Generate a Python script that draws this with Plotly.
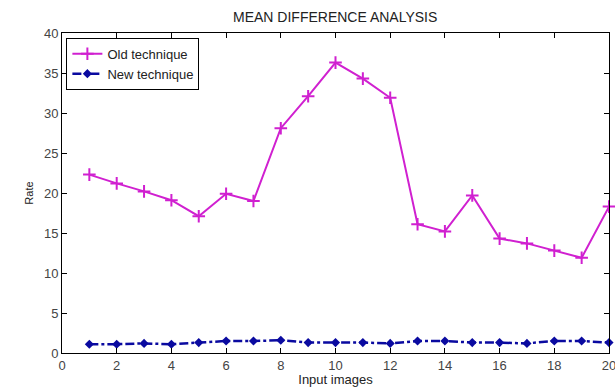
import plotly.graph_objects as go

images = list(range(1, 21))
old_technique = [22.3, 21.2, 20.2, 19.1, 17.1, 19.9, 19.0, 28.1, 32.1, 36.3,
                 34.3, 31.9, 16.1, 15.2, 19.7, 14.3, 13.7, 12.8, 11.9, 18.3]
new_technique = [1.1, 1.1, 1.2, 1.1, 1.3, 1.5, 1.5, 1.6, 1.3, 1.3,
                 1.3, 1.2, 1.5, 1.5, 1.3, 1.3, 1.2, 1.5, 1.5, 1.3]
x_ticks = list(range(0, 21, 2))
y_ticks = list(range(0, 41, 5))

FONT = "Liberation Sans, Arial"

fig = go.Figure()
fig.add_trace(go.Scatter(
    x=images, y=old_technique, name="Old technique", mode="lines+markers",
    line=dict(color="#d020d0", width=2),
    marker=dict(symbol="cross-thin", size=9, line=dict(color="#d020d0", width=2)),
    cliponaxis=False,
))
fig.add_trace(go.Scatter(
    x=images, y=new_technique, name="New technique", mode="lines+markers",
    line=dict(color="#0a0aa0", width=2.5, dash="dashdot"),
    marker=dict(symbol="diamond", size=7, color="#0a0aa0"),
    cliponaxis=False,
))

axis_common = dict(
    showgrid=False, zeroline=False, showline=True, linecolor="black", linewidth=1,
    mirror="ticks", ticks="inside", ticklen=5, tickcolor="black", automargin=False,
    tickfont=dict(family=FONT, size=13, color="#444"),
)
fig.update_xaxes(range=[0, 20], tickvals=x_ticks, ticklabeloverflow="allow",
                 title=dict(text="Input images", font=dict(family=FONT, size=13, color="#222"), standoff=0),
                 **axis_common)
fig.update_yaxes(range=[0, 40], tickvals=y_ticks,
                 title=dict(text="Rate", font=dict(family=FONT, size=11, color="#222"), standoff=8),
                 **axis_common)

fig.update_layout(
    width=615, height=387,
    margin=dict(l=62, r=6, t=33, b=34),
    paper_bgcolor="white", plot_bgcolor="white",
    title=dict(text="MEAN DIFFERENCE ANALYSIS", x=0.545, xanchor="center", y=0.955, yanchor="middle",
               font=dict(family=FONT, size=14, color="#222")),
    legend=dict(x=0.008, y=0.985, xanchor="left", yanchor="top",
                bordercolor="black", borderwidth=1, bgcolor="white",
                font=dict(family=FONT, size=13, color="#222"),
                tracegroupgap=0),
    showlegend=True,
)

fig.write_html("out.html")
